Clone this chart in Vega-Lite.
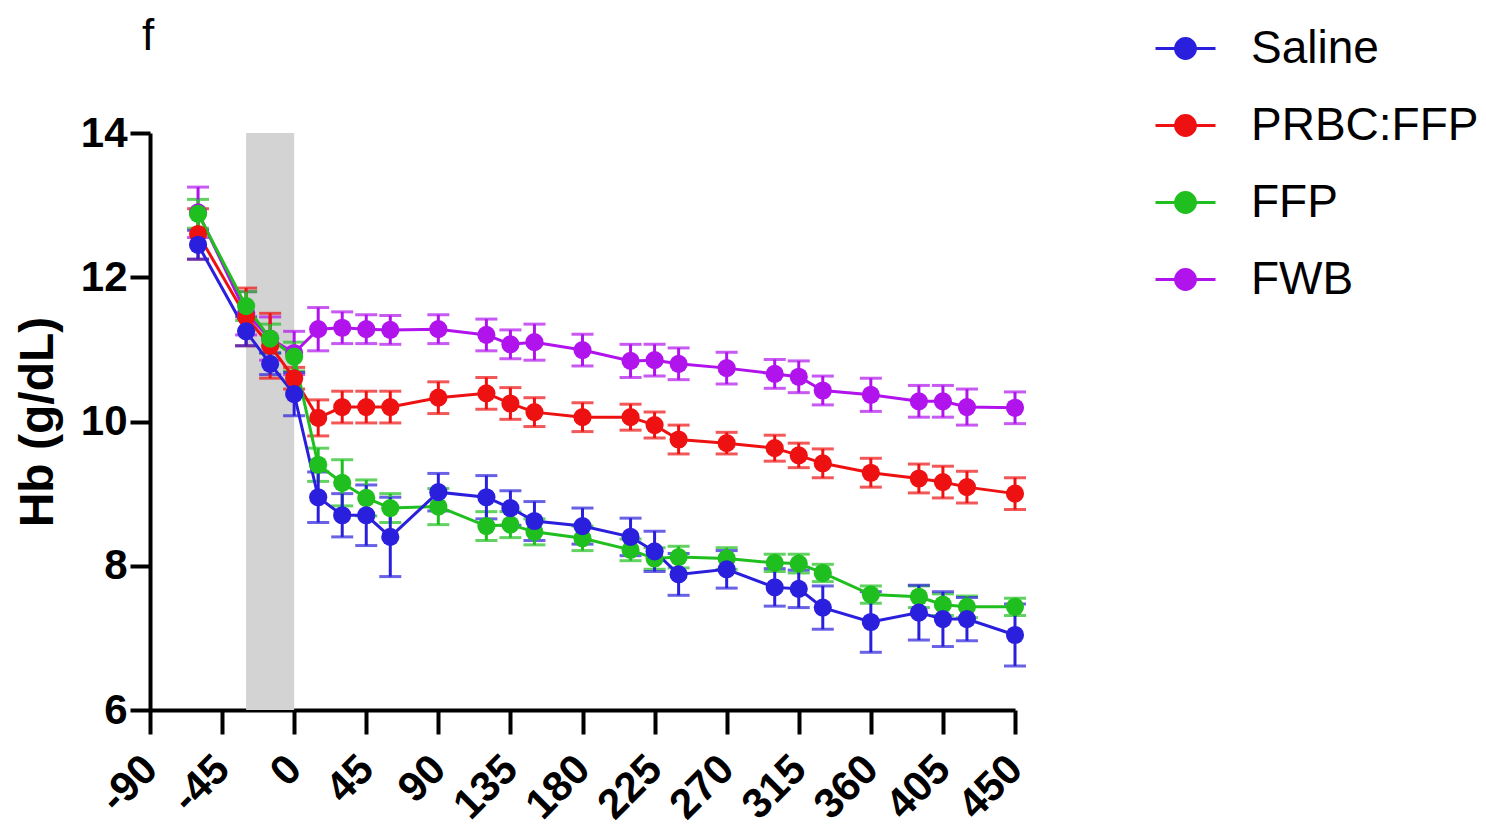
{
  "$schema": "https://vega.github.io/schema/vega-lite/v6.json",
  "width": 865,
  "height": 577,
  "autosize": {"type": "none"},
  "padding": {"left": 150, "top": 133, "right": 471, "bottom": 117},
  "background": "white",
  "config": {
    "view": {"stroke": null},
    "font": "Liberation Sans",
    "axis": {"grid": false, "domainColor": "black", "domainWidth": 4, "tickColor": "black", "tickWidth": 4, "labelColor": "black", "titleColor": "black", "labelFont": "Liberation Sans", "titleFont": "Liberation Sans"}
  },
  "title": {"text": "f", "anchor": "start", "frame": "group", "fontSize": 44, "fontWeight": "normal", "font": "Liberation Sans", "color": "black", "offset": -42, "dx": -8},
  "layer": [
    {
      "data": {"values": [{"start": -30, "end": 0}]},
      "mark": {"type": "rect", "color": "#d3d3d3"},
      "encoding": {
        "x": {"field": "start", "type": "quantitative", "scale": {"domain": [-90, 450], "nice": false, "zero": false}},
        "x2": {"field": "end"}
      }
    },
    {
      "data": {"values": [
        {"t": -60, "group": "FWB", "hb": 12.9, "sem": 0.35},
        {"t": -30, "group": "FWB", "hb": 11.5, "sem": 0.3},
        {"t": -15, "group": "FWB", "hb": 11.15, "sem": 0.3},
        {"t": 0, "group": "FWB", "hb": 10.95, "sem": 0.3},
        {"t": 15, "group": "FWB", "hb": 11.28, "sem": 0.3},
        {"t": 30, "group": "FWB", "hb": 11.3, "sem": 0.22},
        {"t": 45, "group": "FWB", "hb": 11.28, "sem": 0.2},
        {"t": 60, "group": "FWB", "hb": 11.27, "sem": 0.2},
        {"t": 90, "group": "FWB", "hb": 11.28, "sem": 0.2},
        {"t": 120, "group": "FWB", "hb": 11.2, "sem": 0.22},
        {"t": 135, "group": "FWB", "hb": 11.07, "sem": 0.2},
        {"t": 150, "group": "FWB", "hb": 11.1, "sem": 0.25},
        {"t": 180, "group": "FWB", "hb": 10.99, "sem": 0.22},
        {"t": 210, "group": "FWB", "hb": 10.84, "sem": 0.23},
        {"t": 225, "group": "FWB", "hb": 10.85, "sem": 0.22},
        {"t": 240, "group": "FWB", "hb": 10.8, "sem": 0.22},
        {"t": 270, "group": "FWB", "hb": 10.74, "sem": 0.22},
        {"t": 300, "group": "FWB", "hb": 10.66, "sem": 0.2},
        {"t": 315, "group": "FWB", "hb": 10.62, "sem": 0.22},
        {"t": 330, "group": "FWB", "hb": 10.43, "sem": 0.2},
        {"t": 360, "group": "FWB", "hb": 10.37, "sem": 0.23},
        {"t": 390, "group": "FWB", "hb": 10.28, "sem": 0.22},
        {"t": 405, "group": "FWB", "hb": 10.28, "sem": 0.22},
        {"t": 420, "group": "FWB", "hb": 10.2, "sem": 0.25},
        {"t": 450, "group": "FWB", "hb": 10.19, "sem": 0.22},
        {"t": -60, "group": "PRBC:FFP", "hb": 12.6, "sem": 0.35},
        {"t": -30, "group": "PRBC:FFP", "hb": 11.45, "sem": 0.4},
        {"t": -15, "group": "PRBC:FFP", "hb": 11.05, "sem": 0.45},
        {"t": 0, "group": "PRBC:FFP", "hb": 10.6, "sem": 0.15},
        {"t": 15, "group": "PRBC:FFP", "hb": 10.05, "sem": 0.25},
        {"t": 30, "group": "PRBC:FFP", "hb": 10.2, "sem": 0.22},
        {"t": 45, "group": "PRBC:FFP", "hb": 10.2, "sem": 0.22},
        {"t": 60, "group": "PRBC:FFP", "hb": 10.2, "sem": 0.22},
        {"t": 90, "group": "PRBC:FFP", "hb": 10.33, "sem": 0.22},
        {"t": 120, "group": "PRBC:FFP", "hb": 10.39, "sem": 0.22},
        {"t": 135, "group": "PRBC:FFP", "hb": 10.25, "sem": 0.22},
        {"t": 150, "group": "PRBC:FFP", "hb": 10.13, "sem": 0.2},
        {"t": 180, "group": "PRBC:FFP", "hb": 10.06, "sem": 0.2},
        {"t": 210, "group": "PRBC:FFP", "hb": 10.06, "sem": 0.18},
        {"t": 225, "group": "PRBC:FFP", "hb": 9.95, "sem": 0.18},
        {"t": 240, "group": "PRBC:FFP", "hb": 9.75, "sem": 0.2},
        {"t": 270, "group": "PRBC:FFP", "hb": 9.7, "sem": 0.15},
        {"t": 300, "group": "PRBC:FFP", "hb": 9.63, "sem": 0.18},
        {"t": 315, "group": "PRBC:FFP", "hb": 9.53, "sem": 0.17},
        {"t": 330, "group": "PRBC:FFP", "hb": 9.42, "sem": 0.2},
        {"t": 360, "group": "PRBC:FFP", "hb": 9.29, "sem": 0.2},
        {"t": 390, "group": "PRBC:FFP", "hb": 9.21, "sem": 0.2},
        {"t": 405, "group": "PRBC:FFP", "hb": 9.16, "sem": 0.22},
        {"t": 420, "group": "PRBC:FFP", "hb": 9.09, "sem": 0.22},
        {"t": 450, "group": "PRBC:FFP", "hb": 9.0, "sem": 0.22},
        {"t": -60, "group": "FFP", "hb": 12.88, "sem": 0.2},
        {"t": -30, "group": "FFP", "hb": 11.6, "sem": 0.2},
        {"t": -15, "group": "FFP", "hb": 11.15, "sem": 0.2},
        {"t": 0, "group": "FFP", "hb": 10.9, "sem": 0.2},
        {"t": 15, "group": "FFP", "hb": 9.4, "sem": 0.23},
        {"t": 30, "group": "FFP", "hb": 9.15, "sem": 0.32},
        {"t": 45, "group": "FFP", "hb": 8.94, "sem": 0.25},
        {"t": 60, "group": "FFP", "hb": 8.8, "sem": 0.2},
        {"t": 90, "group": "FFP", "hb": 8.82, "sem": 0.25},
        {"t": 120, "group": "FFP", "hb": 8.55, "sem": 0.2},
        {"t": 135, "group": "FFP", "hb": 8.57, "sem": 0.18},
        {"t": 150, "group": "FFP", "hb": 8.47, "sem": 0.18},
        {"t": 180, "group": "FFP", "hb": 8.38, "sem": 0.17},
        {"t": 210, "group": "FFP", "hb": 8.22, "sem": 0.15},
        {"t": 225, "group": "FFP", "hb": 8.1, "sem": 0.15},
        {"t": 240, "group": "FFP", "hb": 8.12, "sem": 0.15},
        {"t": 270, "group": "FFP", "hb": 8.1, "sem": 0.15},
        {"t": 300, "group": "FFP", "hb": 8.04, "sem": 0.12},
        {"t": 315, "group": "FFP", "hb": 8.03, "sem": 0.13},
        {"t": 330, "group": "FFP", "hb": 7.9, "sem": 0.12},
        {"t": 360, "group": "FFP", "hb": 7.6, "sem": 0.12},
        {"t": 390, "group": "FFP", "hb": 7.57, "sem": 0.15},
        {"t": 405, "group": "FFP", "hb": 7.46, "sem": 0.15},
        {"t": 420, "group": "FFP", "hb": 7.43, "sem": 0.15},
        {"t": 450, "group": "FFP", "hb": 7.43, "sem": 0.12},
        {"t": -60, "group": "Saline", "hb": 12.45, "sem": 0.2},
        {"t": -30, "group": "Saline", "hb": 11.25, "sem": 0.2},
        {"t": -15, "group": "Saline", "hb": 10.8, "sem": 0.15},
        {"t": 0, "group": "Saline", "hb": 10.38, "sem": 0.3},
        {"t": 15, "group": "Saline", "hb": 8.95, "sem": 0.35},
        {"t": 30, "group": "Saline", "hb": 8.7, "sem": 0.3},
        {"t": 45, "group": "Saline", "hb": 8.7, "sem": 0.42},
        {"t": 60, "group": "Saline", "hb": 8.4, "sem": 0.55},
        {"t": 90, "group": "Saline", "hb": 9.02, "sem": 0.26},
        {"t": 120, "group": "Saline", "hb": 8.95, "sem": 0.3},
        {"t": 135, "group": "Saline", "hb": 8.8, "sem": 0.24},
        {"t": 150, "group": "Saline", "hb": 8.62, "sem": 0.27},
        {"t": 180, "group": "Saline", "hb": 8.55, "sem": 0.25},
        {"t": 210, "group": "Saline", "hb": 8.4, "sem": 0.26},
        {"t": 225, "group": "Saline", "hb": 8.2, "sem": 0.28},
        {"t": 240, "group": "Saline", "hb": 7.88, "sem": 0.29},
        {"t": 270, "group": "Saline", "hb": 7.95, "sem": 0.26},
        {"t": 300, "group": "Saline", "hb": 7.7, "sem": 0.26},
        {"t": 315, "group": "Saline", "hb": 7.68, "sem": 0.26},
        {"t": 330, "group": "Saline", "hb": 7.42, "sem": 0.3},
        {"t": 360, "group": "Saline", "hb": 7.22, "sem": 0.42},
        {"t": 390, "group": "Saline", "hb": 7.35, "sem": 0.38},
        {"t": 405, "group": "Saline", "hb": 7.26, "sem": 0.38},
        {"t": 420, "group": "Saline", "hb": 7.26, "sem": 0.3},
        {"t": 450, "group": "Saline", "hb": 7.04, "sem": 0.43}
      ]},
      "encoding": {
        "x": {
          "field": "t", "type": "quantitative",
          "scale": {"domain": [-90, 450], "nice": false, "zero": false},
          "axis": {"values": [-90, -45, 0, 45, 90, 135, 180, 225, 270, 315, 360, 405, 450], "labelExpr": "'' + datum.value", "title": null, "tickSize": 24, "labelAngle": -45, "labelAlign": "right", "labelBaseline": "middle", "labelFontSize": 42, "labelFontWeight": "bold", "labelPadding": 28, "labelFlush": false, "labelOverlap": false}
        },
        "y": {
          "field": "hb", "type": "quantitative",
          "scale": {"domain": [6, 14], "nice": false, "zero": false},
          "axis": {"values": [6, 8, 10, 12, 14], "format": "d", "title": "Hb (g/dL)", "titleFontSize": 48, "titleFontWeight": "bold", "titlePadding": 18, "tickSize": 20, "labelFontSize": 42, "labelFontWeight": "bold", "labelPadding": 3, "labelFlush": false}
        },
        "color": {
          "field": "group", "type": "nominal",
          "scale": {"domain": ["Saline", "PRBC:FFP", "FFP", "FWB"], "range": ["#2a1fdc", "#ee1111", "#1fbf1f", "#b013ec"]},
          "legend": {
            "title": null, "orient": "none", "legendX": 1004, "legendY": -116,
            "symbolType": "M-1,0L1,0M-0.33,0A0.33,0.33 0 1,1 0.33,0A0.33,0.33 0 1,1 -0.33,0Z",
            "symbolSize": 3600, "symbolStrokeWidth": 3, "symbolOpacity": 1,
            "labelFontSize": 46, "labelFont": "Liberation Sans", "labelColor": "black", "labelOffset": 34, "rowPadding": 22, "labelLimit": 400,
            "encode": {"symbols": {"update": {"fill": {"scale": "color", "field": "value"}, "stroke": {"scale": "color", "field": "value"}, "strokeWidth": {"value": 3}, "opacity": {"value": 1}}}}
          }
        }
      },
      "layer": [
        {
          "mark": {"type": "errorbar", "ticks": {"size": 22, "thickness": 3}, "thickness": 3},
          "encoding": {
            "yError": {"field": "sem"}
          }
        },
        {
          "mark": {"type": "line", "strokeWidth": 3}
        },
        {
          "mark": {"type": "point", "filled": true, "opacity": 1, "size": 330, "shape": "circle"}
        }
      ]
    }
  ]
}
